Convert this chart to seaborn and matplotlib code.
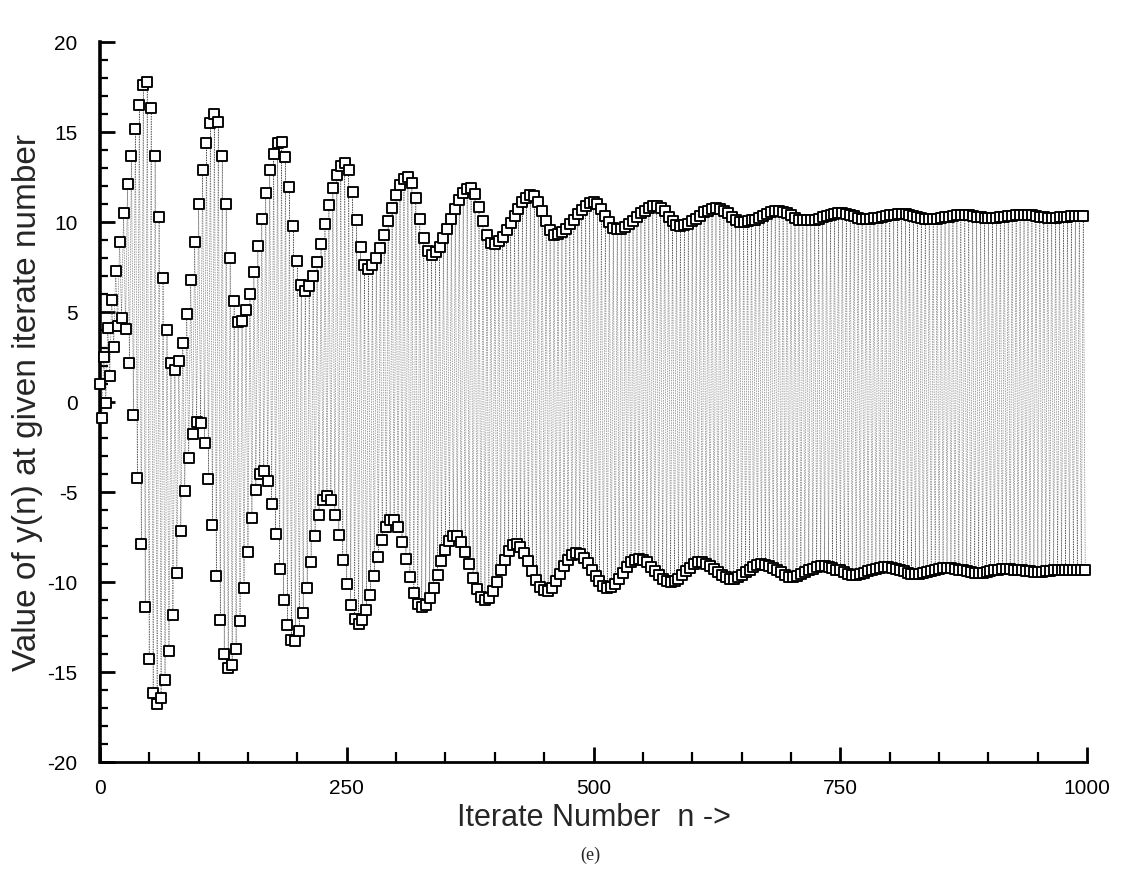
import matplotlib
matplotlib.use("Agg")
import matplotlib.pyplot as plt
from matplotlib.ticker import MultipleLocator
import pandas as pd
import seaborn as sns

# Upper branch of y(n): iterates n = 0, 4, 8, ... 996
n_upper = list(range(0, 1000, 4))
y_upper = [
    1.0, 2.5, 4.1, 5.7, 7.3, 8.9, 10.5, 12.1, 13.7, 15.2,
    16.5, 17.6, 17.8, 16.35, 13.7, 10.3, 6.9, 4.0, 2.2, 1.8,
    2.3, 3.3, 4.9, 6.8, 8.9, 11.0, 12.9, 14.4, 15.5, 16.0,
    15.55, 13.7, 11.0, 8.0, 5.6, 4.45, 4.5, 5.1, 6.0, 7.25,
    8.7, 10.2, 11.65, 12.9, 13.8, 14.4, 14.45, 13.65, 11.95, 9.8,
    7.85, 6.5, 6.2, 6.45, 7.0, 7.8, 8.8, 9.9, 10.95, 11.9,
    12.65, 13.1, 13.3, 12.9, 11.7, 10.15, 8.65, 7.65, 7.4, 7.6,
    8.0, 8.55, 9.3, 10.05, 10.8, 11.5, 12.05, 12.4, 12.5, 12.2,
    11.35, 10.2, 9.1, 8.4, 8.2, 8.35, 8.65, 9.1, 9.6, 10.2,
    10.75, 11.25, 11.6, 11.85, 11.9, 11.55, 10.85, 10.05, 9.3, 8.85,
    8.8, 8.95, 9.2, 9.55, 9.95, 10.35, 10.75, 11.1, 11.35, 11.5,
    11.45, 11.15, 10.6, 10.05, 9.55, 9.3, 9.35, 9.45, 9.65, 9.9,
    10.15, 10.45, 10.7, 10.9, 11.05, 11.1, 11.0, 10.75, 10.35, 10.0,
    9.7, 9.6, 9.65, 9.75, 9.9, 10.05, 10.3, 10.5, 10.65, 10.8,
    10.9, 10.9, 10.8, 10.6, 10.3, 10.05, 9.85, 9.8, 9.85, 9.9,
    10.05, 10.2, 10.35, 10.55, 10.65, 10.75, 10.8, 10.75, 10.65, 10.5,
    10.3, 10.15, 10.0, 10.0, 10.05, 10.1, 10.15, 10.25, 10.35, 10.45,
    10.55, 10.6, 10.6, 10.55, 10.5, 10.4, 10.25, 10.15, 10.1, 10.1,
    10.1, 10.15, 10.2, 10.3, 10.35, 10.4, 10.45, 10.5, 10.5, 10.45,
    10.4, 10.35, 10.25, 10.2, 10.2, 10.2, 10.25, 10.25, 10.3, 10.35,
    10.4, 10.4, 10.45, 10.45, 10.45, 10.4, 10.35, 10.3, 10.25, 10.2,
    10.2, 10.2, 10.2, 10.25, 10.3, 10.3, 10.35, 10.4, 10.4, 10.4,
    10.4, 10.35, 10.3, 10.3, 10.25, 10.25, 10.25, 10.25, 10.3, 10.3,
    10.35, 10.35, 10.4, 10.4, 10.4, 10.4, 10.4, 10.35, 10.3, 10.3,
    10.25, 10.25, 10.25, 10.3, 10.3, 10.3, 10.35, 10.35, 10.35, 10.35,
]

# Lower branch of y(n): iterates n = 2, 6, 10, ... 998
n_lower = list(range(2, 1000, 4))
y_lower = [
    -0.9, -0.05, 1.45, 3.05, 4.25, 4.7, 4.05, 2.2, -0.7, -4.2,
    -7.9, -11.4, -14.3, -16.15, -16.8, -16.45, -15.45, -13.85, -11.8, -9.5,
    -7.15, -4.95, -3.1, -1.75, -1.1, -1.15, -2.25, -4.25, -6.85, -9.65,
    -12.1, -14.0, -14.75, -14.6, -13.7, -12.15, -10.3, -8.3, -6.45, -4.9,
    -4.0, -3.8, -4.4, -5.65, -7.35, -9.25, -11.0, -12.4, -13.2, -13.25,
    -12.7, -11.7, -10.35, -8.9, -7.45, -6.25, -5.45, -5.2, -5.45, -6.25,
    -7.4, -8.75, -10.1, -11.25, -12.05, -12.3, -12.1, -11.55, -10.7, -9.65,
    -8.6, -7.65, -6.95, -6.55, -6.55, -6.95, -7.75, -8.7, -9.7, -10.6,
    -11.2, -11.4, -11.25, -10.9, -10.3, -9.6, -8.85, -8.2, -7.7, -7.45,
    -7.45, -7.75, -8.3, -9.0, -9.75, -10.4, -10.85, -11.0, -10.9, -10.5,
    -10.0, -9.35, -8.75, -8.25, -7.95, -7.9, -8.05, -8.4, -8.85, -9.4,
    -9.9, -10.25, -10.45, -10.5, -10.3, -9.95, -9.55, -9.1, -8.75, -8.5,
    -8.4, -8.45, -8.65, -8.95, -9.3, -9.65, -9.95, -10.2, -10.3, -10.25,
    -10.1, -9.85, -9.5, -9.15, -8.9, -8.75, -8.7, -8.75, -8.9, -9.15,
    -9.4, -9.6, -9.8, -9.95, -10.0, -9.95, -9.8, -9.6, -9.4, -9.2,
    -9.0, -8.9, -8.9, -9.0, -9.1, -9.25, -9.45, -9.6, -9.7, -9.8,
    -9.8, -9.7, -9.6, -9.45, -9.3, -9.15, -9.05, -9.0, -9.05, -9.1,
    -9.2, -9.35, -9.45, -9.6, -9.7, -9.7, -9.65, -9.55, -9.45, -9.35,
    -9.25, -9.15, -9.1, -9.1, -9.15, -9.2, -9.3, -9.35, -9.45, -9.55,
    -9.6, -9.6, -9.55, -9.5, -9.4, -9.35, -9.25, -9.2, -9.15, -9.15,
    -9.2, -9.25, -9.35, -9.4, -9.5, -9.55, -9.55, -9.55, -9.5, -9.45,
    -9.4, -9.3, -9.25, -9.2, -9.2, -9.2, -9.25, -9.3, -9.35, -9.4,
    -9.45, -9.5, -9.5, -9.5, -9.45, -9.4, -9.35, -9.3, -9.25, -9.25,
    -9.25, -9.3, -9.3, -9.35, -9.4, -9.4, -9.45, -9.45, -9.45, -9.4,
    -9.4, -9.35, -9.35, -9.3, -9.3, -9.3, -9.3, -9.35, -9.35, -9.35,
]

x_ticks = [0, 250, 500, 750, 1000]
y_ticks = [-20, -15, -10, -5, 0, 5, 10, 15, 20]
x_label = "Iterate Number  n ->"
y_label = "Value of y(n) at given iterate number"
caption = "(e)"

df = pd.DataFrame({"n": n_upper + n_lower, "y": y_upper + y_lower})
df = df.sort_values("n").reset_index(drop=True)

sns.set_theme(style="white")
plt.rcParams["font.family"] = ["Liberation Sans", "DejaVu Sans"]
plt.rcParams["axes.unicode_minus"] = False

fig = plt.figure(figsize=(11.22, 8.81), dpi=100)
ax = fig.add_axes([0.089, 0.135, 0.880, 0.817])

sns.lineplot(data=df, x="n", y="y", estimator=None, sort=False, ax=ax,
             color="0.25", linewidth=0.5, linestyle=(0, (1, 1.4)), zorder=2)
sns.scatterplot(data=df, x="n", y="y", ax=ax, marker="s", s=48,
                color="white", edgecolor="black", linewidth=1.35,
                zorder=3, clip_on=False)

ax.set_xlim(0, 1000)
ax.set_ylim(-20, 20)
ax.set_xticks(x_ticks)
ax.set_yticks(y_ticks)
ax.xaxis.set_minor_locator(MultipleLocator(50))
ax.yaxis.set_minor_locator(MultipleLocator(1))
ax.tick_params(which="both", direction="in", colors="black")
ax.tick_params(axis="x", labelsize=15)
ax.tick_params(axis="y", labelsize=15)
ax.tick_params(axis="y", which="major", length=11, width=2, pad=16)
ax.tick_params(axis="y", which="minor", length=6, width=1.6)
ax.tick_params(axis="x", which="major", length=11, width=2, pad=12)
ax.tick_params(axis="x", which="minor", length=7, width=1.6)
ax.tick_params(left=True, bottom=True, which="both")

sns.despine(ax=ax, top=True, right=True)
ax.spines["left"].set_linewidth(2.6)
ax.spines["bottom"].set_linewidth(2.0)
ax.spines["left"].set_color("black")
ax.spines["bottom"].set_color("black")

ax.set_xlabel(x_label, fontsize=22)
ax.set_ylabel(y_label, fontsize=24)
ax.yaxis.set_label_coords(-0.058, 0.5)
ax.xaxis.set_label_coords(0.5, -0.057)

fig.text(590 / 1122, 1 - 855 / 881, caption, ha="center", va="center",
         fontsize=13, family=["Liberation Serif", "DejaVu Serif"])

fig.savefig("out.png", dpi=100, facecolor="white")
